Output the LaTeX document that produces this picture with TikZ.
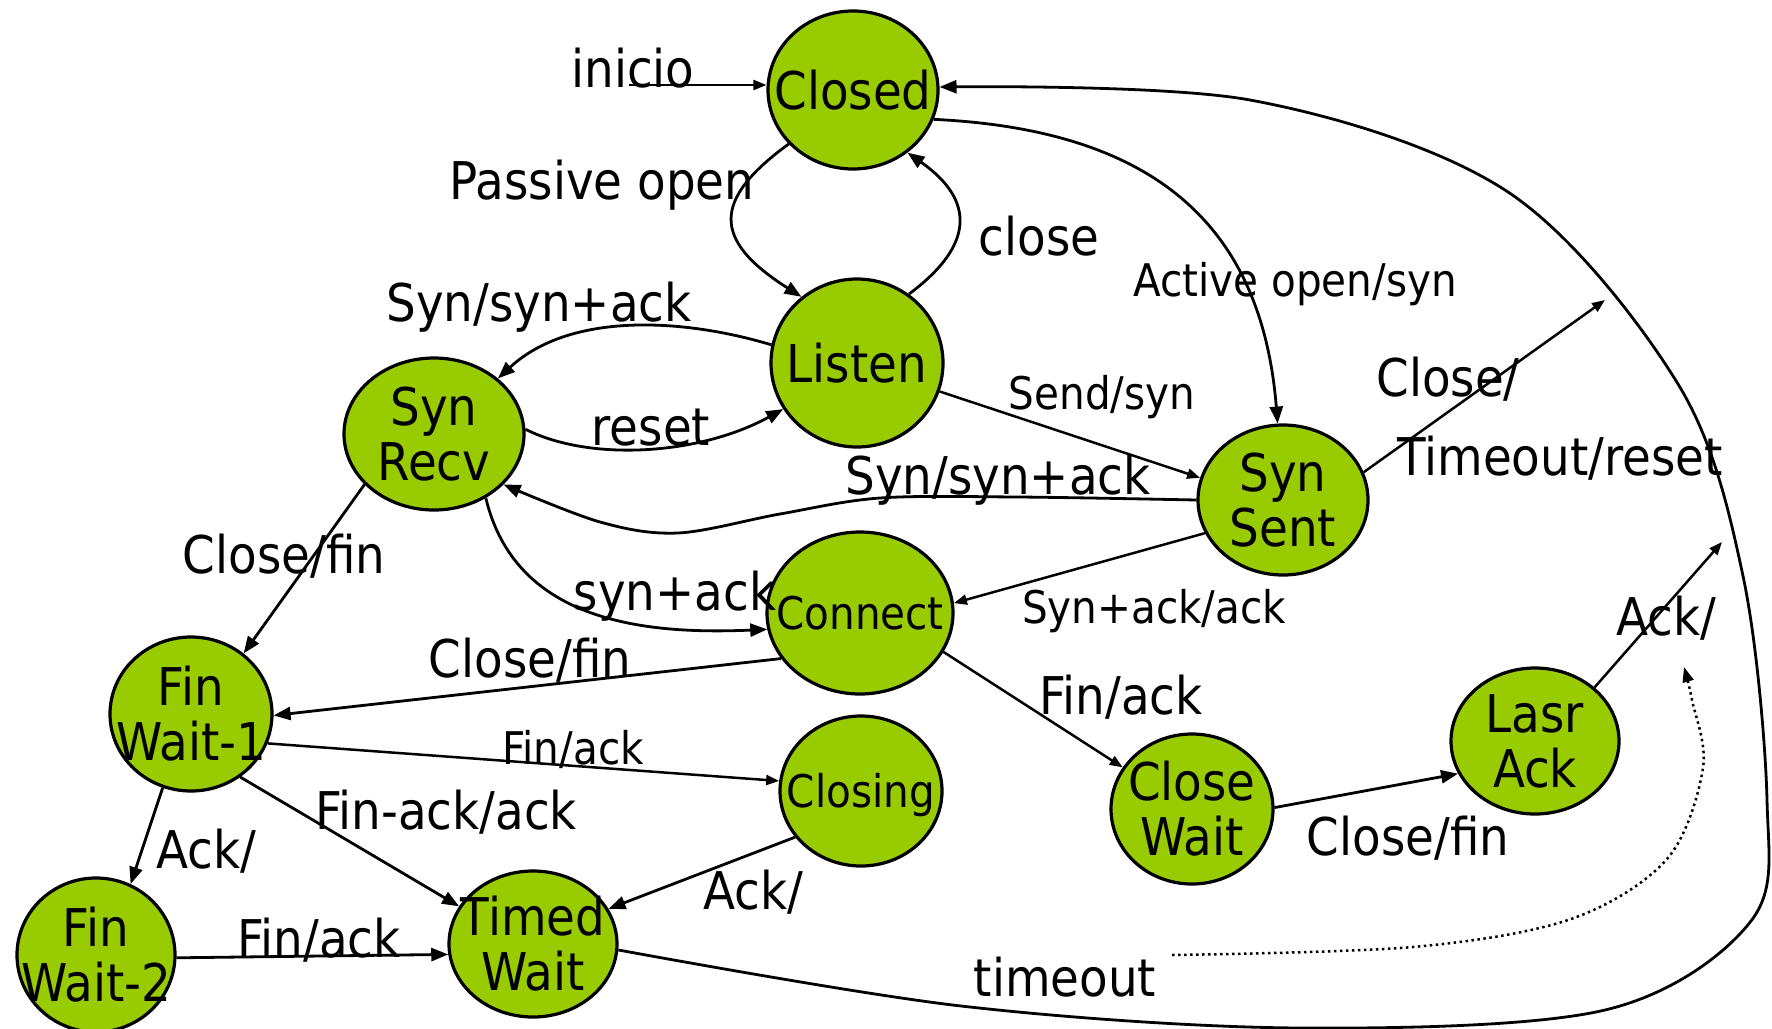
\documentclass[tikz,border=0pt]{standalone}
\usepackage{fontspec}
\setmainfont{DejaVu Sans}[FakeStretch=0.9]
\usetikzlibrary{shapes.geometric,arrows.meta}
\definecolor{stategreen}{HTML}{99CC00}

\tikzset{
  state/.style={ellipse, draw=black, line width=3.2pt, fill=stategreen, inner sep=0pt},
  stext/.style={align=center, inner sep=0pt, font=\fontsize{52}{55}\selectfont},
  stextm/.style={align=center, inner sep=0pt, font=\fontsize{45}{50}\selectfont},
  lbl/.style={anchor=base, inner sep=0pt, font=\fontsize{52}{55}\selectfont},
  lblm/.style={anchor=base, inner sep=0pt, font=\fontsize{45}{50}\selectfont},
  conn/.style={line width=2.8pt, -{Triangle[length=17pt,width=13pt]}},
  connthin/.style={line width=2.5pt, -{Triangle[length=13pt,width=10pt]}},
  dotline/.style={line width=2.5pt, dash pattern=on 2.5pt off 3.5pt, -{Triangle[length=15pt,width=11pt]}},
}

\begin{document}
\begin{tikzpicture}[x=1pt,y=-1pt]
\path[fill=white, use as bounding box] (0,0) rectangle (1772,1028);

% states
\node[state, minimum width=170, minimum height=158] (closed) at (853,90) {};
\node[state, minimum width=172, minimum height=168] (listen) at (857,363) {};
\node[state, minimum width=180, minimum height=152] (synrecv) at (434,434) {};
\node[state, minimum width=170, minimum height=150] (synsent) at (1283,500) {};
\node[state, minimum width=186, minimum height=162] (connect) at (860,613) {};
\node[state, minimum width=162, minimum height=154] (finwait1) at (191,714) {};
\node[state, minimum width=158, minimum height=154] (finwait2) at (96,955) {};
\node[state, minimum width=168, minimum height=146] (timedwait) at (533,944) {};
\node[state, minimum width=162, minimum height=150] (closing) at (861,791) {};
\node[state, minimum width=162, minimum height=150] (closewait) at (1192,809) {};
\node[state, minimum width=168, minimum height=146] (lasrack) at (1535,741) {};

% state names
\node[stext] (closedT) at (closed) {Closed};
\node[stext] (listenT) at (listen) {Listen};
\node[stext] (synrecvT) at (synrecv) {Syn\\Recv};
\node[stext] (synsentT) at (synsent) {Syn\\Sent};
\node[stextm] (connectT) at (connect) {Connect};
\node[stext] (finwait1T) at (finwait1) {Fin\\Wait-1};
\node[stext] (finwait2T) at (finwait2) {Fin\\Wait-2};
\node[stext] (timedwaitT) at (timedwait) {Timed\\Wait};
\node[stextm] (closingT) at ([yshift=-4pt]closing.center) {Closing};
\node[stext] (closewaitT) at (closewait) {Close\\Wait};
\node[stext] (lasrackT) at (lasrack) {Lasr\\Ack};

% free ends
\coordinate (iniA) at (629,85);
\coordinate (ctEnd) at (1605,300);
\coordinate (ackEnd) at (1722,542);
\coordinate (dotA) at (1172,955);
\coordinate (dotB) at (1684,667);

% transitions
\draw[connthin] (iniA) -- (closed.west |- iniA);
\draw[conn] (closed.220) .. controls (712,200) and (712,240) .. (listen.130);
\draw[conn] (listen.53) .. controls (975,245) and (975,200) .. (closed.311);
\draw[conn] (closed.340) .. controls (1160,130) and (1262,230) .. (synsent.94);
\draw[conn] plot[smooth, tension=0.55] coordinates {(timedwait.356) (961,1006) (1300,1028) (1605,1010) (1751,921) (1767,800) (1743,576) (1678,384) (1508,192) (1250,100) (closed.2)};
\draw[conn] (listen.168) .. controls (682,318) and (570,312) .. (synrecv.41);
\draw[conn] (synrecv.3) .. controls (590,462) and (700,455) .. (listen.212);
\draw[connthin] (listen.341) -- (synsent.165);
\draw[conn] plot[smooth, tension=0.55] coordinates {(synsent.180) (1017,497) (880,498) (780,514) (678,533) (600,522) (synrecv.324)};
\draw[conn] (synrecv.309) .. controls (515,620) and (640,635) .. (connect.190);
\draw[connthin] (synsent.203) -- (connect.6);
\draw[conn] (synrecv.216) -- (finwait1.49);
\draw[conn] (connect.210) -- (finwait1.359);
\draw[connthin] (connect.335) -- (closewait.149);
\draw[connthin] (synsent.19) -- (ctEnd);
\draw[conn] (closewait.1) -- (lasrack.203);
\draw[connthin] (lasrack.42) -- (ackEnd);
\draw[connthin] (finwait1.339) -- (closing.173);
\draw[conn] (finwait1.249) -- (finwait2.64);
\draw[conn] (finwait1.308) -- (timedwait.153);
\draw[conn] (closing.215) -- (timedwait.25);
\draw[conn] (finwait2.358) -- (timedwait.187);
\draw[dotline] plot[smooth, tension=0.55] coordinates {(dotA) (1413,947) (1571,919) (1667,859) (1703,768) (1692,700) (dotB)};

% transition labels
\node[lbl] (lInicio) at (633,87) {inicio};
\node[lbl] (lPassive) at (602,199) {Passive open};
\node[lbl] (lClose) at (1039,255) {close};
\node[lblm] (lActive) at (1295,296) {Active open/syn};
\node[lbl] (lSynA) at (539,321) {Syn/syn+ack};
\node[lbl] (lReset) at (651,445) {reset};
\node[lblm] (lSend) at (1102,409) {Send/syn};
\node[lbl] (lSynB) at (998,494) {Syn/syn+ack};
\node[lbl] (lCloseSl) at (1448,396) {Close/};
\node[lbl] (lTimeout) at (1560,475) {Timeout/reset};
\node[lbl] (lCloseFinA) at (284,573) {Close/fin};
\node[lbl] (lSynAck) at (675,610) {syn+ack};
\node[lblm] (lSynAckAck) at (1154,623) {Syn+ack/ack};
\node[lbl] (lCloseFinB) at (530,677) {Close/fin};
\node[lbl] (lFinAckA) at (1121,714) {Fin/ack};
\node[lbl] (lAckA) at (1666,635) {Ack/};
\node[lblm] (lFinAckB) at (573,764) {Fin/ack};
\node[lbl] (lFinAckAck) at (446,829) {Fin-ack/ack};
\node[lbl] (lAckB) at (206,868) {Ack/};
\node[lbl] (lAckC) at (753,909) {Ack/};
\node[lbl] (lCloseFinC) at (1408,855) {Close/fin};
\node[lbl] (lFinAckC) at (319,957) {Fin/ack};
\node[lbl] (lTimeoutB) at (1065,996) {timeout};
\end{tikzpicture}
\end{document}
